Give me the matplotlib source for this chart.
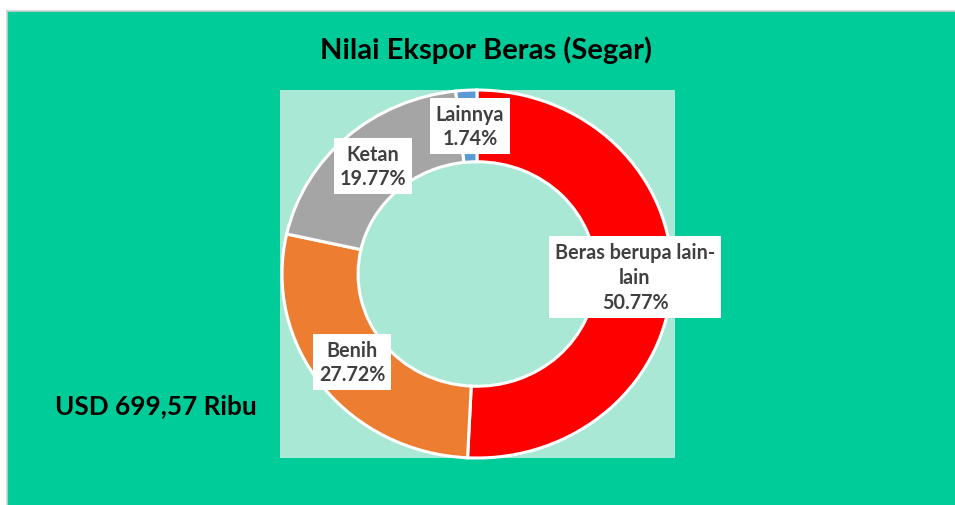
import matplotlib
matplotlib.use('Agg')
import matplotlib.pyplot as plt
from matplotlib.patches import Rectangle
from matplotlib.lines import Line2D

plt.rcParams['font.family'] = ['Lato', 'DejaVu Sans']

# data
categories = ['Beras berupa lain-\nlain', 'Benih', 'Ketan', 'Lainnya']
shares = [50.77, 27.72, 19.77, 1.74]
colors = ['#FF0000', '#ED7D31', '#A5A5A5', '#5B9BD5']
title = 'Nilai Ekspor Beras (Segar)'
total_text = 'USD 699,57 Ribu'

# label box centres in pixels (x, y from top)
label_pos = [(635, 278), (352, 363), (373, 167), (470, 127)]

W, H = 955, 506
fig = plt.figure(figsize=(W / 100, H / 100), dpi=100)
fig.patch.set_facecolor('white')

# green background panel (runs off the right and bottom edges)
top = 1 - 12 / H
left = 7 / W
fig.patches.append(Rectangle((left, -0.1), 1.2, top + 0.1, transform=fig.transFigure,
                             facecolor='#00CC99', edgecolor='none', zorder=-5))
fig.lines.append(Line2D([left, 1], [top, top], transform=fig.transFigure,
                        color='#D0D0D0', lw=1.2, zorder=-4))
fig.lines.append(Line2D([left, left], [0, top], transform=fig.transFigure,
                        color='#D0D0D0', lw=1.2, zorder=-4))

# plot area: x 280..675, y 91..459 px ; donut centre (477, 275)
x0, x1, y0, y1 = 280, 675, 91, 459
cx, cy, rx, ry = 477, 275, 195, 184
ax = fig.add_axes([x0 / W, 1 - y1 / H, (x1 - x0) / W, (y1 - y0) / H])
ax.pie(shares, colors=colors, startangle=90, counterclock=False,
       wedgeprops=dict(width=0.39, edgecolor='white', linewidth=2.2))
ax.set_aspect('auto')
ax.set_xlim((x0 - cx) / rx, (x1 - cx) / rx)
ax.set_ylim(-(y1 - cy) / ry, (cy - y0) / ry)
ax.set_frame_on(True)
ax.set_facecolor('#A8E8D4')
for s in ax.spines.values():
    s.set_visible(False)
ax.set_xticks([])
ax.set_yticks([])

for cat, val, (px, py) in zip(categories, shares, label_pos):
    fig.text(px / W, 1 - py / H, f'{cat}\n{val:.2f}%', ha='center', va='center',
             fontsize=14.2, fontweight='bold', color='#404040', linespacing=1.3,
             bbox=dict(boxstyle='square,pad=0.3', facecolor='white', edgecolor='none'))

fig.text(486 / W, 1 - 50 / H, title, ha='center', va='center',
         fontsize=21, fontweight='bold', color='black')
fig.text(156 / W, 1 - 406 / H, total_text, ha='center', va='center',
         fontsize=18.8, fontweight='bold', color='black')

fig.savefig('out.png', dpi=100)
